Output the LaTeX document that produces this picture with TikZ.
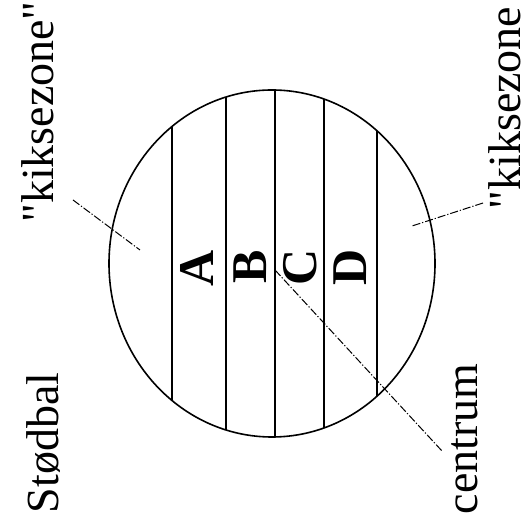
\documentclass[tikz,border=0pt]{standalone}
\usepackage{fontspec}
\setmainfont{Liberation Serif}[Ligatures=TeXOff]
\usetikzlibrary{positioning}
\tikzset{
  leader/.style={line width=0.5pt,dash pattern=on 4pt off 1pt on 0.6pt off 1pt},
  sidetext/.style={rotate=90,anchor=base,inner sep=0pt,
       font=\fontsize{23}{23}\selectfont},
  zonetext/.style={rotate=90,anchor=base,inner sep=0pt,
       font=\fontsize{25}{25}\selectfont\bfseries}
}

\begin{document}
\begin{tikzpicture}[x=0.5pt,y=-0.5pt]
  \useasboundingbox (0,0) rectangle (530,528);
  %% Ball outline
  \draw[line width=0.8pt] (272,263.5) ellipse [x radius=163,y radius=173.5];
  %% Zone boundaries
  \begin{scope}
    \clip (272,263.5) ellipse [x radius=163,y radius=173.5];
    \foreach \xs in {172,226,275,324,377}
      \draw[line width=0.75pt] (\xs,0) -- (\xs,528);
  \end{scope}
  %% Zone letters
  \node[zonetext] (zA) at (213,268){A};
  \node[zonetext] (zB) at (266,267){B};
  \node[zonetext] (zC) at (316,267){C};
  \node[zonetext] (zD) at (366,267){D};
  %% Labels
  \node[sidetext] (kikL) at (53,112){"kiksezone"};
  \node[sidetext] (kikR) at (520,108){"kiksezone};
  \node[sidetext] (bal) at (58,443){Stødbal};
  \node[sidetext] (cent) at (477,439){centrum};
  %% Leader lines
  \coordinate (kikLend) at (73,200);
  \coordinate (kikLin) at (140,250);
  \coordinate (kikRend) at (483,203);
  \coordinate (kikRin) at (412,226);
  \coordinate (midt) at (275,270);
  \coordinate (centend) at (442,451);
  \draw[leader] (kikLend) -- (kikLin);
  \draw[leader] (kikRend) -- (kikRin);
  \draw[leader] (midt) -- (centend);
\end{tikzpicture}
\end{document}
